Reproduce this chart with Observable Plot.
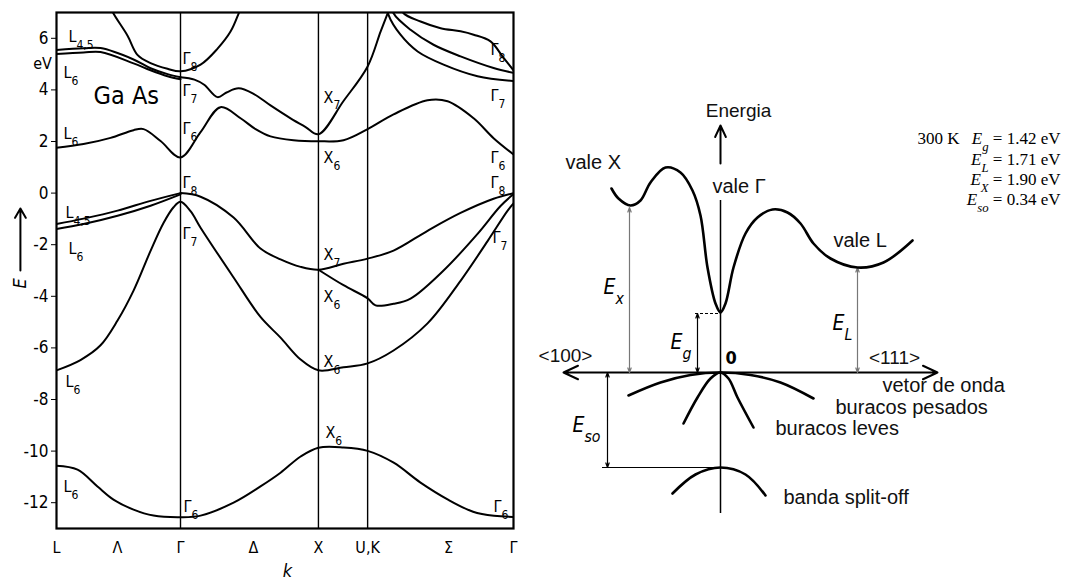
<!DOCTYPE html>
<html><head><meta charset="utf-8">
<script src="https://cdn.jsdelivr.net/npm/d3@7"></script>
<script src="https://cdn.jsdelivr.net/npm/@observablehq/plot@0.6"></script>
<style>
body{margin:0;background:#fff;}
#wrap{position:relative;width:1078px;height:583px;overflow:hidden;background:#fff;}
#left{position:absolute;left:0;top:0;}
#right{position:absolute;left:520px;top:0;}
</style></head><body><div id="wrap"><div id="left"></div><div id="right"></div></div>
<script>
// ---------- Left panel: GaAs band structure (k along L-Γ-X-U,K-Γ, E in eV) ----------
const kSym = [0, 0.89, 1.88, 2.233, 3.28];           // L, Γ, X, U/K, Γ
const kTickPos = [0, 0.438, 0.89, 1.414, 1.88, 2.233, 2.814, 3.28];
const kTickLabels = ["L", "Λ", "Γ", "Δ", "X", "U,K", "Σ", "Γ"];
const eTicks = [6, 4, 2, 0, -2, -4, -6, -8, -10, -12];

const bandS = [[0,-10.57],[0.151,-10.72],[0.294,-11.37],[0.409,-11.88],[0.553,-12.27],[0.696,-12.5],[0.89,-12.56],
  [1.034,-12.5],[1.271,-12.0],[1.464,-11.37],[1.608,-10.84],[1.752,-10.21],[1.88,-9.87],[2.06,-9.86],[2.233,-9.99],
  [2.42,-10.45],[2.61,-11.21],[2.81,-11.88],[2.99,-12.35],[3.14,-12.51],[3.28,-12.55]];
const bandV1 = [[0,-6.87],[0.172,-6.47],[0.316,-5.9],[0.438,-4.94],[0.553,-3.78],[0.675,-2.24],[0.768,-1.16],[0.84,-0.55],[0.89,-0.34],
  [0.962,-0.7],[1.034,-1.34],[1.271,-3.27],[1.464,-4.8],[1.608,-5.6],[1.752,-6.45],[1.88,-6.87],[2.06,-6.75],[2.233,-6.6],
  [2.419,-6.1],[2.663,-5.05],[2.9,-3.4],[3.094,-1.86],[3.238,-0.68],[3.28,-0.4]];
const bandV2 = [[0,-1.2],[0.194,-0.99],[0.438,-0.68],[0.675,-0.3],[0.89,0]];
const bandV3 = [[0,-1.39],[0.194,-1.2],[0.438,-0.88],[0.675,-0.49],[0.89,-0.05]];
const bandV4 = [[0.89,0],[1.034,-0.14],[1.271,-0.95],[1.464,-2.15],[1.608,-2.57],[1.752,-2.86],[1.88,-2.97],[2.06,-2.74],
  [2.233,-2.54],[2.419,-2.23],[2.663,-1.46],[2.9,-0.77],[3.137,-0.22],[3.28,0]];
const bandV5 = [[1.88,-2.97],[2.06,-3.57],[2.233,-4.08],[2.29,-4.35],[2.419,-4.29],[2.541,-4.09],[2.778,-3.0],[3.022,-1.58],[3.187,-0.5],[3.28,-0.04]];
const bandC1 = [[0,1.76],[0.194,1.9],[0.388,2.14],[0.553,2.44],[0.625,2.48],[0.747,2.02],[0.89,1.38],[1.034,2.36],[1.177,3.33],
  [1.321,2.9],[1.429,2.48],[1.536,2.2],[1.701,2.05],[1.88,2.01],[2.06,2.05],[2.233,2.48],[2.419,3.05],[2.663,3.6],[2.807,3.56],
  [2.994,2.9],[3.137,2.13],[3.28,1.5]];
const bandC2 = [[0.89,4.49],[0.99,4.4],[1.06,4.2],[1.156,3.72],[1.22,3.9],[1.307,4.06],[1.414,3.85],[1.536,3.4],[1.68,2.9],
  [1.788,2.56],[1.88,2.28],[2.06,3.57],[2.233,4.91],[2.326,6.26],[2.376,6.96],[2.42,7.6]];
const bandC3 = [[0.38,7.3],[0.409,6.96],[0.51,6.1],[0.581,5.36],[0.675,5.04],[0.797,4.82],[0.89,4.72],[1.034,4.98],[1.156,5.6],
  [1.249,6.26],[1.307,6.96],[1.33,7.3]];
const bandC4 = [[0,5.55],[0.194,5.61],[0.316,5.62],[0.553,5.18],[0.675,4.84],[0.797,4.61],[0.89,4.49]];
const bandC5 = [[0,5.39],[0.194,5.45],[0.316,5.47],[0.553,5.03],[0.675,4.76],[0.797,4.53],[0.89,4.41]];
const bandC6 = [[2.37,7.4],[2.383,6.91],[2.469,6.14],[2.592,5.49],[2.778,4.98],[3.022,4.53],[3.28,4.34]];
const bandC7 = [[2.41,7.3],[2.419,6.97],[2.541,6.33],[2.706,5.75],[2.9,5.3],[3.137,4.85],[3.28,4.66]];
const bandC8 = [[2.47,7.3],[2.491,6.97],[2.613,6.65],[2.757,6.39],[2.9,6.27],[2.994,6.14],[3.115,5.88],[3.209,5.24],[3.28,4.76]];
const bands = [bandS, bandV1, bandV2, bandV3, bandV4, bandV5, bandC1, bandC2, bandC3, bandC4, bandC5, bandC6, bandC7, bandC8];

const bandLabels = [
  {t:"L_{4,5}", k:0.086, e:6.07}, {t:"L_{6}", k:0.05, e:4.65}, {t:"L_{6}", k:0.05, e:2.29},
  {t:"Γ_{8}", k:0.905, e:5.19}, {t:"Γ_{7}", k:0.905, e:3.95}, {t:"Γ_{6}", k:0.905, e:2.48}, {t:"Γ_{8}", k:0.905, e:0.4},
  {t:"L_{4,5}", k:0.065, e:-0.76}, {t:"L_{6}", k:0.086, e:-2.15}, {t:"Γ_{7}", k:0.905, e:-1.57},
  {t:"L_{6}", k:0.065, e:-7.32}, {t:"L_{6}", k:0.05, e:-11.38}, {t:"Γ_{6}", k:0.912, e:-12.15},
  {t:"X_{7}", k:1.917, e:3.71}, {t:"X_{6}", k:1.917, e:1.36},
  {t:"Γ_{8}", k:3.115, e:5.55}, {t:"Γ_{7}", k:3.115, e:3.77}, {t:"Γ_{6}", k:3.115, e:1.36}, {t:"Γ_{8}", k:3.115, e:0.4},
  {t:"X_{7}", k:1.917, e:-2.41}, {t:"X_{6}", k:1.917, e:-4.03}, {t:"Γ_{7}", k:3.13, e:-1.72},
  {t:"X_{6}", k:1.917, e:-6.55}, {t:"X_{6}", k:1.93, e:-9.29}, {t:"Γ_{6}", k:3.137, e:-12.15}
];

// ---------- Right panel: schematic (arbitrary k and E units) ----------
const schemCB = [[-1.09,1.84],[-1.02,1.74],[-0.9,1.67],[-0.8,1.72],[-0.7,1.9],[-0.55,2.05],[-0.4,2.0],[-0.28,1.82],[-0.2,1.57],
  [-0.13,1.05],[-0.05,0.69],[0,0.6],[0.05,0.69],[0.13,1.05],[0.25,1.39],[0.37,1.55],[0.52,1.63],[0.67,1.6],[0.8,1.49],
  [0.93,1.29],[1.1,1.14],[1.37,1.05],[1.63,1.1],[1.92,1.32]];
const schemHeavy = [[-0.92,-0.23],[-0.6,-0.1],[-0.3,-0.025],[0,0],[0.3,-0.025],[0.6,-0.1],[0.93,-0.26]];
const schemLight = [[-0.37,-0.51],[-0.23,-0.25],[-0.1,-0.06],[0,0],[0.08,-0.06],[0.17,-0.25],[0.33,-0.55]];
const schemSplit = [[-0.48,-1.21],[-0.25,-1.02],[0,-0.95],[0.25,-1.02],[0.45,-1.23]];
const gapMarks = [{name:"Ex", k:-0.91, top:1.65}, {name:"Eg", k:-0.23, top:0.59}, {name:"EL", k:1.37, top:1.05}];
const soMark = {k:-1.13, bottom:-0.95};
const schemLabelsStart = [
  {t:"vale X", k:-1.55, e:2.10}, {t:"vale Γ", k:-0.08, e:1.86}, {t:"vale L", k:1.13, e:1.32},
  {t:"vetor de onda", k:1.62, e:-0.13}, {t:"buracos pesados", k:1.15, e:-0.35},
  {t:"buracos leves", k:0.55, e:-0.56}, {t:"banda split-off", k:0.63, e:-1.25}
];
const schemLabelsMiddle = [
  {t:"Energia", k:0.18, e:2.62}, {t:"<100>", k:-1.55, e:0.17}, {t:"<111>", k:1.74, e:0.15}
];
const symLabels = [
  {t:"E_{x}", k:-1.17, e:0.85}, {t:"E_{g}", k:-0.5, e:0.30}, {t:"E_{L}", k:1.12, e:0.49}, {t:"E_{so}", k:-1.48, e:-0.53}
];
const infoLines = ["*E*_[g] = 1.42 eV", "*E*_[L] = 1.71 eV", "*E*_[X] = 1.90 eV", "*E*_[so] = 0.34 eV"];
const infoE = [2.34, 2.13, 1.93, 1.73];

// ---------- helpers ----------
function richify(svg) {
  svg.querySelectorAll("text").forEach(t => {
    const s = t.textContent;
    if (!/[_*]/.test(s)) return;
    while (t.firstChild) t.removeChild(t.firstChild);
    const re = /_\{([^}]*)\}|_\[([^\]]*)\]|\*([^*]*)\*|([^_*]+)/g;
    let m;
    while ((m = re.exec(s))) {
      const ts = document.createElementNS("http://www.w3.org/2000/svg", "tspan");
      if (m[1] !== undefined || m[2] !== undefined) {
        ts.textContent = m[1] !== undefined ? m[1] : m[2];
        ts.setAttribute("baseline-shift", "sub");
        ts.style.fontSize = "0.75em";
        if (m[2] !== undefined) ts.setAttribute("font-style", "italic");
      } else if (m[3] !== undefined) {
        ts.textContent = m[3];
        ts.setAttribute("font-style", "italic");
      } else ts.textContent = m[4];
      t.appendChild(ts);
    }
  });
}

const narrow = "'Liberation Sans Narrow','DejaVu Sans Condensed','Arial Narrow',sans-serif";
const sans = "'Liberation Sans',Arial,sans-serif";
const serif = "'Liberation Serif','Times New Roman',serif";

const left = Plot.plot({
  width: 520, height: 583,
  marginLeft: 56, marginRight: 7, marginTop: 12, marginBottom: 55,
  style: {fontFamily: narrow, fontSize: "17px", color: "#000", background: "#fff"},
  x: {domain: [0, 3.28], axis: null},
  y: {domain: [-13, 7], ticks: eTicks, tickSize: 5, tickPadding: 3, label: null, tickFormat: d => String(d)},
  marks: [
    Plot.ruleX(kSym.slice(1, 4), {stroke: "#000", strokeWidth: 1.4}),
    ...bands.map(b => Plot.line(b, {x: d => d[0], y: d => d[1], curve: "catmull-rom", stroke: "#000", strokeWidth: 2, clip: true})),
    Plot.frame({stroke: "#000", strokeWidth: 2.2}),
    Plot.text(bandLabels, {x: "k", y: "e", text: "t", textAnchor: "start", fontSize: 16, fontFamily: narrow}),
    Plot.text(["Ga As"], {x: 0.266, y: 3.76, textAnchor: "start", fontSize: 25, fontFamily: narrow}),
    Plot.text(kTickPos, {x: d => d, y: -13.75, text: (d, i) => kTickLabels[i], fontSize: 16, fontFamily: narrow,
      fontWeight: (d, i) => kTickLabels[i] === "Γ" ? "bold" : "normal"}),
    Plot.text(["k"], {x: 1.658, y: -14.65, fontStyle: "italic", fontSize: 18, fontFamily: narrow}),
    Plot.text(["eV"], {x: -0.1, y: 5.0, fontSize: 16, fontFamily: narrow}),
    Plot.text(["E"], {x: -0.259, y: -3.5, rotate: -90, fontStyle: "italic", fontSize: 18, fontFamily: narrow}),
    Plot.arrow([0], {x1: -0.259, y1: -3.0, x2: -0.259, y2: -0.6, stroke: "#000", strokeWidth: 2, headLength: 8})
  ]
});
richify(left);
document.getElementById("left").appendChild(left);

const right = Plot.plot({
  width: 558, height: 583, margin: 0,
  style: {fontFamily: sans, fontSize: "20px", color: "#000", background: "transparent"},
  x: {domain: [-2.0, 3.58], axis: null},
  y: {domain: [-2.11, 3.72], axis: null},
  marks: [
    // axes
    Plot.arrow([0], {x1: 0, y1: 0, x2: -1.57, y2: 0, stroke: "#000", strokeWidth: 2, headLength: 12, headAngle: 50}),
    Plot.arrow([0], {x1: 0, y1: 0, x2: 2.17, y2: 0, stroke: "#000", strokeWidth: 2, headLength: 12, headAngle: 50}),
    Plot.ruleX([0], {y1: -1.41, y2: 1.72, stroke: "#000", strokeWidth: 1.5}),
    Plot.arrow([0], {x1: 0, y1: 2.09, x2: 0, y2: 2.47, stroke: "#000", strokeWidth: 2, headLength: 10, headAngle: 50}),
    // gap markers
    ...gapMarks.flatMap(g => [
      Plot.arrow([0], {x1: g.k, y1: g.top / 2, x2: g.k, y2: g.top, stroke: g.name === "Eg" ? "#000" : "#777", strokeWidth: 1.2, headLength: 6, headAngle: 40}),
      Plot.arrow([0], {x1: g.k, y1: g.top / 2, x2: g.k, y2: 0, stroke: g.name === "Eg" ? "#000" : "#777", strokeWidth: 1.2, headLength: 6, headAngle: 40})
    ]),
    Plot.ruleY([gapMarks[1].top], {x1: gapMarks[1].k - 0.02, x2: 0, stroke: "#000", strokeWidth: 1, strokeDasharray: "3,2"}),
    Plot.arrow([0], {x1: soMark.k, y1: soMark.bottom / 2, x2: soMark.k, y2: 0, stroke: "#000", strokeWidth: 1.2, headLength: 6, headAngle: 40}),
    Plot.arrow([0], {x1: soMark.k, y1: soMark.bottom / 2, x2: soMark.k, y2: soMark.bottom, stroke: "#000", strokeWidth: 1.2, headLength: 6, headAngle: 40}),
    Plot.ruleY([soMark.bottom], {x1: soMark.k - 0.05, x2: 0, stroke: "#000", strokeWidth: 1.2}),
    // bands
    Plot.line(schemCB, {x: d => d[0], y: d => d[1], curve: "catmull-rom", stroke: "#000", strokeWidth: 2.6}),
    Plot.line(schemHeavy, {x: d => d[0], y: d => d[1], curve: "catmull-rom", stroke: "#000", strokeWidth: 2.6}),
    Plot.line(schemLight, {x: d => d[0], y: d => d[1], curve: "catmull-rom", stroke: "#000", strokeWidth: 2.6}),
    Plot.line(schemSplit, {x: d => d[0], y: d => d[1], curve: "catmull-rom", stroke: "#000", strokeWidth: 2.6}),
    // labels
    Plot.text(schemLabelsStart, {x: "k", y: "e", text: "t", textAnchor: "start", fontSize: 20, fontFamily: sans, fill: "#111"}),
    Plot.text(schemLabelsMiddle, {x: "k", y: "e", text: "t", textAnchor: "middle", fontSize: 19, fontFamily: sans, fill: "#111"}),
    Plot.text(symLabels, {x: "k", y: "e", text: "t", textAnchor: "start", fontSize: 21, fontStyle: "italic", fontFamily: narrow}),
    Plot.text(["0"], {x: 0.05, y: 0.14, textAnchor: "start", fontSize: 18, fontFamily: narrow, fontWeight: "bold"}),
    Plot.text(["300 K"], {x: 1.97, y: infoE[0], textAnchor: "start", fontSize: 17, fontFamily: serif}),
    Plot.text(infoLines, {x: 3.40, y: (d, i) => infoE[i], text: d => d, textAnchor: "end", fontSize: 17, fontFamily: serif})
  ]
});
richify(right);
document.getElementById("right").appendChild(right);
</script></body></html>
